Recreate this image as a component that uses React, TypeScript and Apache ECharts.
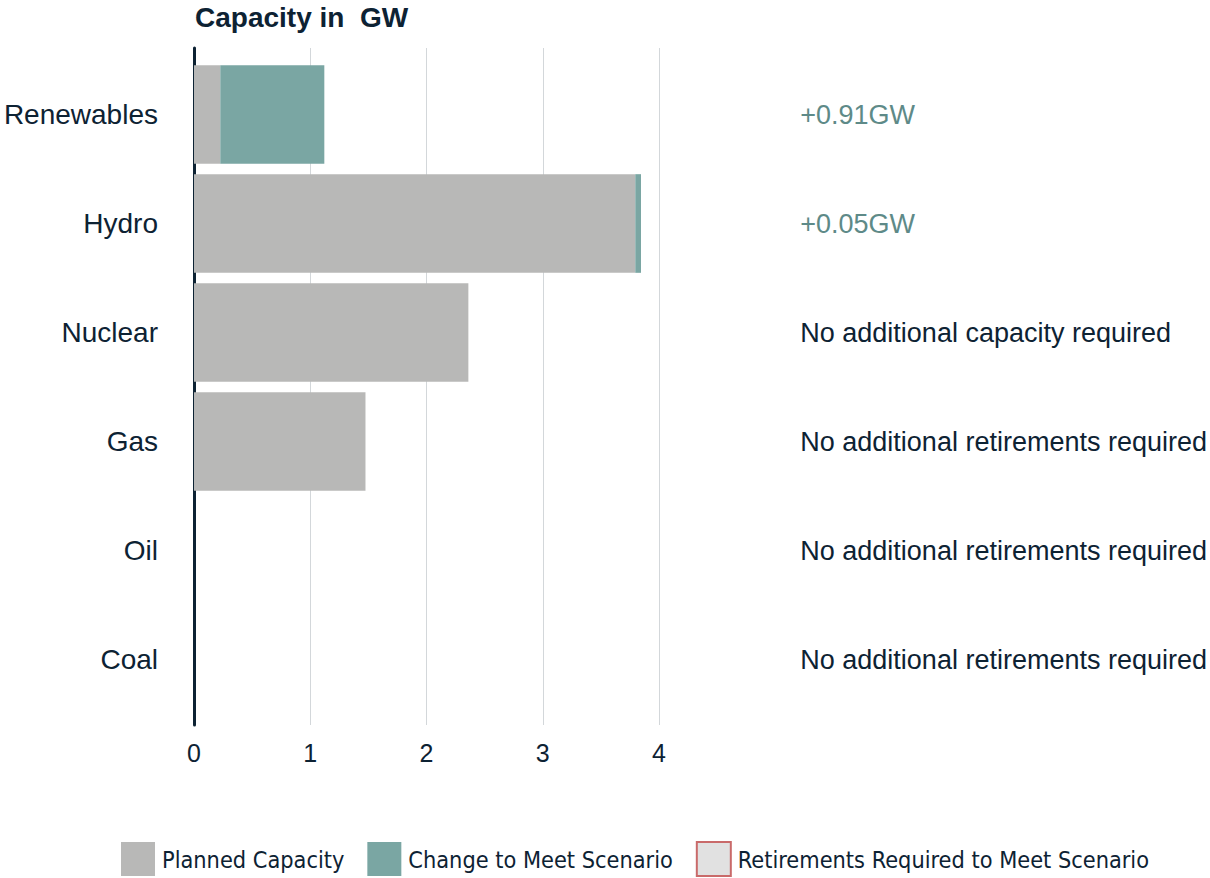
import React, { useEffect, useRef } from "react";
import * as echarts from "echarts";

const categories = ["Renewables", "Hydro", "Nuclear", "Gas", "Oil", "Coal"];
const plannedCapacity = [0.23, 3.86, 2.4, 1.5, null, null];
const changeToMeet = [0.91, 0.05, null, null, null, null];
const retirementsRequired = [null, null, null, null, null, null];
const annotations = [
  "+0.91GW",
  "+0.05GW",
  "No additional capacity required",
  "No additional retirements required",
  "No additional retirements required",
  "No additional retirements required",
];
const xTicks = [0, 1, 2, 3, 4];

const DARK = "#0d2233";
const GRAY = "#b8b8b7";
const TEAL = "#7aa6a3";
const TEAL_TEXT = "#5e8a88";

export default function App() {
  const ref = useRef<HTMLDivElement>(null);
  useEffect(() => {
    if (!ref.current) return;
    const chart = echarts.init(ref.current, undefined, { renderer: "svg" });
    const FONT = "'Liberation Sans', Arial, sans-serif";
    chart.setOption({
      animation: false,
      title: {
        text: "Capacity in  GW",
        left: 195,
        top: 3,
        padding: 0,
        textStyle: { fontFamily: FONT, fontWeight: "bold", fontSize: 28, color: DARK },
      },
      legend: {
        left: 121,
        bottom: 1,
        padding: 0,
        itemWidth: 34,
        itemHeight: 34,
        itemGap: 23,
        icon: "rect",
        textStyle: {
          fontFamily: "'DejaVu Sans Condensed', 'DejaVu Sans', sans-serif",
          fontSize: 23.3,
          color: DARK,
          padding: [0, 0, 0, 2],
        },
        data: ["Planned Capacity", "Change to Meet Scenario", "Retirements Required to Meet Scenario"],
      },
      grid: [
        { left: 194, width: 465, top: 48, height: 677 },
        { left: 194, width: 465, top: 60, height: 654 },
      ],
      xAxis: [
        {
          gridIndex: 0,
          type: "value",
          min: xTicks[0],
          max: xTicks[xTicks.length - 1],
          interval: 1,
          axisLine: { show: false },
          axisTick: { show: false },
          splitLine: { show: true, lineStyle: { color: "#d3d7da", width: 1 } },
          axisLabel: { fontFamily: FONT, fontSize: 25, color: DARK, margin: 15 },
        },
        {
          gridIndex: 1,
          type: "value",
          min: xTicks[0],
          max: xTicks[xTicks.length - 1],
          interval: 1,
          axisLine: { show: false },
          axisTick: { show: false },
          splitLine: { show: false },
          axisLabel: { show: false },
        },
      ],
      yAxis: [
        {
          gridIndex: 0,
          type: "value",
          min: 0,
          max: 1,
          axisLine: { show: true, onZero: false, lineStyle: { color: DARK, width: 3 } },
          axisTick: { show: false },
          axisLabel: { show: false },
          splitLine: { show: false },
        },
        {
          gridIndex: 1,
          type: "category",
          inverse: true,
          data: categories,
          axisLine: { show: false },
          axisTick: { show: false },
          axisLabel: { fontFamily: FONT, fontSize: 28, color: DARK, margin: 36 },
        },
        {
          gridIndex: 1,
          type: "category",
          inverse: true,
          position: "right",
          data: annotations,
          axisLine: { show: false },
          axisTick: { show: false },
          axisLabel: {
            fontFamily: FONT,
            fontSize: 27,
            margin: 149,
            align: "left",
            color: (v: string) => (v && v.charAt(0) === "+" ? TEAL_TEXT : DARK),
          },
        },
      ],
      series: [
        {
          name: "Planned Capacity",
          type: "bar",
          stack: "cap",
          xAxisIndex: 1,
          yAxisIndex: 1,
          barCategoryGap: "9.5%",
          data: plannedCapacity,
          itemStyle: { color: GRAY },
        },
        {
          name: "Change to Meet Scenario",
          type: "bar",
          stack: "cap",
          xAxisIndex: 1,
          yAxisIndex: 1,
          barCategoryGap: "9.5%",
          data: changeToMeet,
          itemStyle: { color: TEAL },
        },
        {
          name: "Retirements Required to Meet Scenario",
          type: "bar",
          stack: "cap",
          xAxisIndex: 1,
          yAxisIndex: 1,
          barCategoryGap: "9.5%",
          data: retirementsRequired,
          itemStyle: { color: "#e1e1e1", borderColor: "#c96a6a", borderWidth: 1.5 },
        },
      ],
    });
    return () => chart.dispose();
  }, []);
  return (
    <div
      ref={ref}
      style={{ position: "fixed", left: 0, top: 0, width: 1210, height: 878, background: "#fff" }}
    />
  );
}
